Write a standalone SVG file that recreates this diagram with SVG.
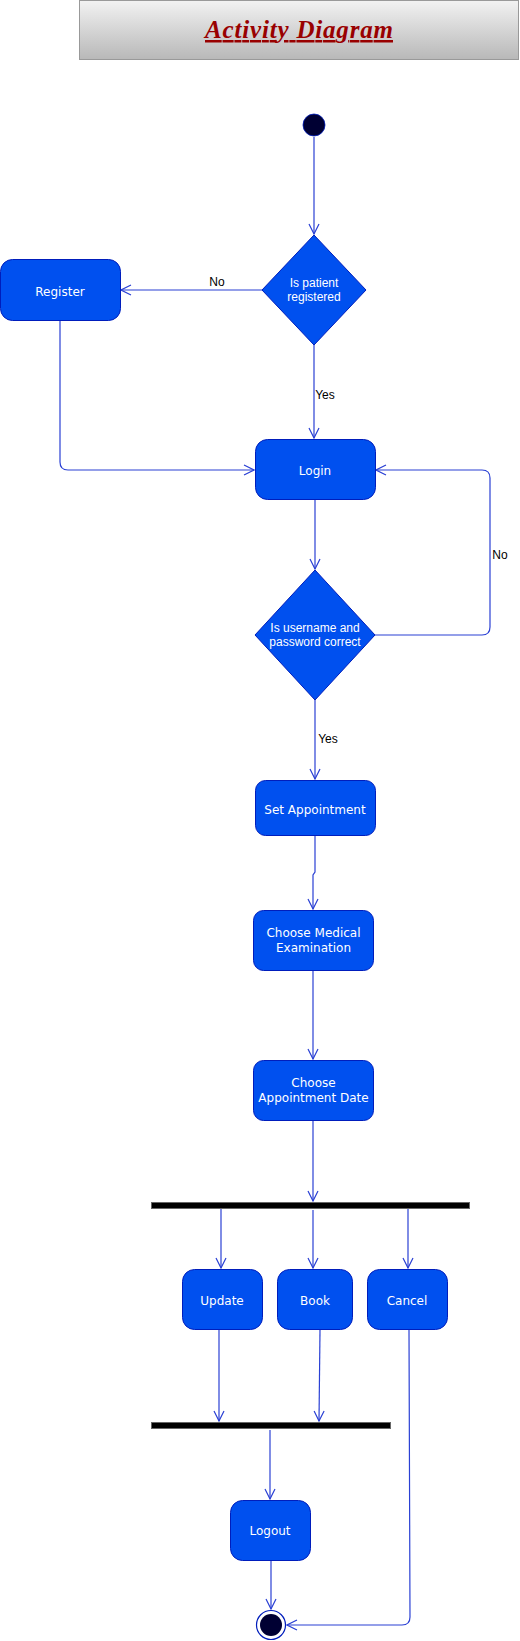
<svg xmlns="http://www.w3.org/2000/svg" width="520" height="1641" viewBox="0 0 520 1641">
<style>
.box{fill:#0050EF;stroke:#001DBC;stroke-width:1}
.bt{font-family:"DejaVu Sans",sans-serif;font-size:12px;fill:#ffffff;text-anchor:middle}
.dt{font-family:"Liberation Sans",Arial,sans-serif;font-size:12px;fill:#ffffff;text-anchor:middle}
.lbl{font-family:"Liberation Sans",Arial,sans-serif;font-size:12px;fill:#000000;text-anchor:middle}
.e{fill:none;stroke:#2a40d4;stroke-width:1.2;marker-end:url(#arr)}
.bar{fill:#000000;stroke:#666666;stroke-width:1}
</style>
<defs>
<linearGradient id="tg" x1="0" y1="0" x2="0" y2="1">
<stop offset="0" stop-color="#f2f2f2"/>
<stop offset="1" stop-color="#b8b8b8"/>
</linearGradient>
<marker id="arr" viewBox="0 0 12 12" refX="11" refY="6" markerWidth="12" markerHeight="12" markerUnits="userSpaceOnUse" orient="auto">
<path d="M1,1 L11,6 L1,11" fill="none" stroke="#2a40d4" stroke-width="1.2"/>
</marker>
</defs>
<g id="title">
<rect x="79.5" y="0.5" width="439" height="59" fill="url(#tg)" stroke="#999999"/>
<text x="299" y="38" font-family="Liberation Serif,serif" font-size="25" font-weight="bold" font-style="italic" fill="#990000" text-anchor="middle" text-decoration="underline" textLength="188" lengthAdjust="spacing">Activity Diagram</text>
</g>
<g id="connectors">
<path class="e" d="M314,137 L314,234"/>
<path class="e" d="M262,290 L121,290"/>
<path class="e" d="M60,320 L60,462 Q60,470 68,470 L254,470"/>
<path class="e" d="M314,345 L314,438"/>
<path class="e" d="M315,500 L315,569"/>
<path class="e" d="M375,635 L482,635 Q490,635 490,627 L490,478 Q490,470 482,470 L376,470"/>
<path class="e" d="M315,700 L315,779"/>
<path class="e" d="M315,835 L315,872 L313,875 L313,909"/>
<path class="e" d="M313,970 L313,1059"/>
<path class="e" d="M313,1120 L313,1201"/>
<path class="e" d="M221,1208 L221,1268"/>
<path class="e" d="M313,1210 L313,1268"/>
<path class="e" d="M408,1208 L408,1268"/>
<path class="e" d="M219,1330 L219,1421"/>
<path class="e" d="M320,1330 L319,1421"/>
<path class="e" d="M270,1430 L270,1499"/>
<path class="e" d="M271,1560 L271,1609"/>
<path class="e" d="M409,1330 L410,1617 Q410,1625 402,1625 L287,1625"/>
</g>
<g id="labels">
<text class="lbl" x="217" y="286">No</text>
<text class="lbl" x="325" y="399">Yes</text>
<text class="lbl" x="500" y="559">No</text>
<text class="lbl" x="328" y="743" font-size="11">Yes</text>
</g>
<g id="start"><circle cx="314" cy="125" r="11" fill="#000033" stroke="#001DBC" stroke-width="0.8"/></g>
<g id="d1">
<polygon class="box" points="314,235 366,290 314,345 262,290"/>
<text class="dt" x="314" y="287">Is patient</text>
<text class="dt" x="314" y="301">registered</text>
</g>
<g id="register">
<rect class="box" x="0.5" y="259.5" width="120" height="61" rx="12"/>
<text class="bt" x="60" y="296">Register</text>
</g>
<g id="login">
<rect class="box" x="255.5" y="439.5" width="120" height="60" rx="12"/>
<text class="bt" x="315" y="475">Login</text>
</g>
<g id="d2">
<polygon class="box" points="315,570 375,635 315,700 255,635"/>
<text class="dt" x="315" y="632">Is username and</text>
<text class="dt" x="315" y="646">password correct</text>
</g>
<g id="setapp">
<rect class="box" x="255.5" y="780.5" width="120" height="55" rx="10"/>
<text class="bt" x="315" y="814">Set Appointment</text>
</g>
<g id="medical">
<rect class="box" x="253.5" y="910.5" width="120" height="60" rx="10"/>
<text class="bt" x="313.5" y="937">Choose Medical</text>
<text class="bt" x="313.5" y="952">Examination</text>
</g>
<g id="date">
<rect class="box" x="253.5" y="1060.5" width="120" height="60" rx="10"/>
<text class="bt" x="313.5" y="1087">Choose</text>
<text class="bt" x="313.5" y="1102">Appointment Date</text>
</g>
<g id="fork"><rect class="bar" x="151.5" y="1202.5" width="318" height="6"/></g>
<g id="update">
<rect class="box" x="182.5" y="1269.5" width="80" height="60" rx="12"/>
<text class="bt" x="222" y="1305">Update</text>
</g>
<g id="book">
<rect class="box" x="277.5" y="1269.5" width="75" height="60" rx="12"/>
<text class="bt" x="315" y="1305">Book</text>
</g>
<g id="cancel">
<rect class="box" x="367.5" y="1269.5" width="80" height="60" rx="12"/>
<text class="bt" x="407" y="1305">Cancel</text>
</g>
<g id="join"><rect class="bar" x="151.5" y="1422.5" width="239" height="6"/></g>
<g id="logout">
<rect class="box" x="230.5" y="1500.5" width="80" height="60" rx="12"/>
<text class="bt" x="270" y="1535">Logout</text>
</g>
<g id="end">
<circle cx="271" cy="1625" r="14.5" fill="#ffffff" stroke="#001DBC" stroke-width="1.2"/>
<circle cx="271" cy="1625" r="11" fill="#000033"/>
</g>
</svg>
